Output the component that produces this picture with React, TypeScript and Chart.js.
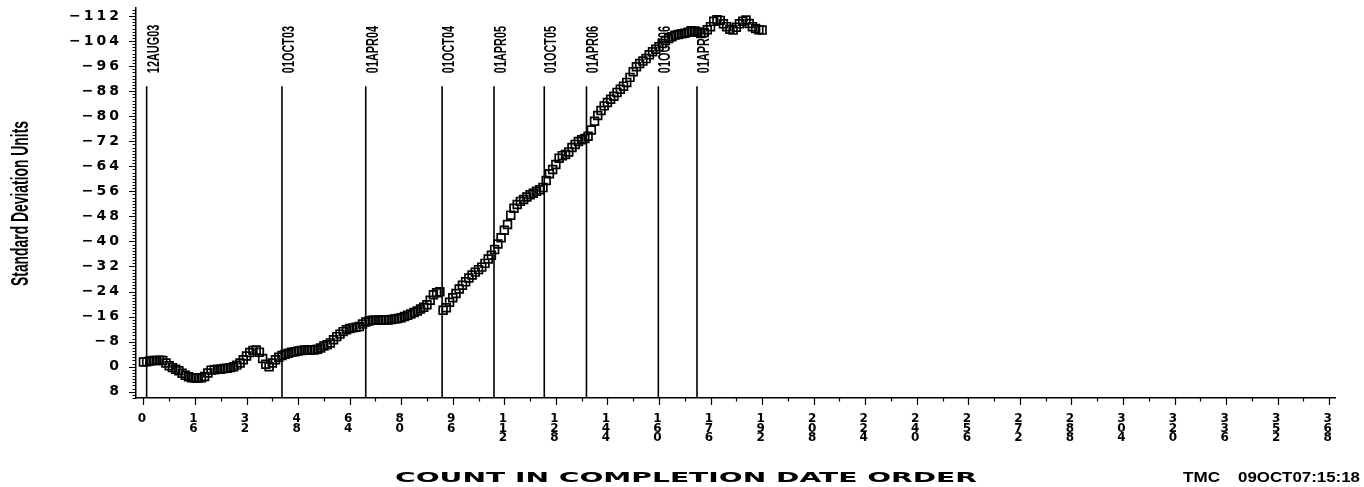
import React, { useEffect, useRef } from 'react';
import { Chart, registerables } from 'chart.js';

Chart.register(...registerables);

// Series: standard deviation units, in completion-date order (x = count)
const deviationValues: number[] = [
  -1.5, -1.6, -1.8, -2.0, -2.0, -2.1, -2.0, -1.2, -0.3, 0.3,
  0.8, 1.3, 2.1, 2.7, 3.2, 3.5, 3.6, 3.6, 3.5, 3.1,
  2.0, 1.1, 1.0, 0.8, 0.8, 0.6, 0.5, 0.3, 0.0, -0.5,
  -1.2, -2.2, -3.4, -4.5, -5.2, -5.3, -4.6, -2.6, -0.8, 0.0,
  -1.2, -2.2, -3.0, -3.6, -4.0, -4.3, -4.6, -4.8, -5.0, -5.2,
  -5.3, -5.3, -5.4, -5.3, -5.6, -6.0, -6.6, -7.0, -7.6, -8.6,
  -9.6, -10.4, -11.2, -11.8, -12.2, -12.4, -12.6, -12.8, -13.6, -14.3,
  -14.6, -14.8, -14.9, -14.8, -14.9, -15.0, -14.9, -15.1, -15.2, -15.4,
  -15.6, -16.0, -16.4, -16.8, -17.3, -17.8, -18.4, -19.0, -19.8, -21.2,
  -23.0, -23.6, -23.9, -18.0, -18.8, -20.6, -22.0, -23.4, -24.8, -26.0,
  -27.1, -28.3, -29.3, -30.2, -31.0, -31.8, -33.0, -34.4, -35.6, -37.4,
  -39.2, -41.2, -43.6, -45.4, -48.4, -50.6, -51.8, -52.8, -53.4, -54.2,
  -54.9, -55.4, -56.0, -56.5, -57.2, -59.5, -61.6, -63.0, -64.6, -66.6,
  -67.4, -67.8, -68.6, -70.0, -71.0, -71.9, -72.5, -72.9, -73.6, -75.6,
  -78.4, -80.2, -81.8, -83.3, -84.4, -85.4, -86.4, -87.6, -88.6, -89.6,
  -90.8, -92.4, -94.2, -95.8, -96.8, -97.6, -98.4, -99.6, -100.6, -101.4,
  -102.2, -103.2, -104.2, -104.8, -105.4, -105.9, -106.1, -106.3, -106.5, -106.8,
  -107.3, -107.2, -106.8, -106.4, -106.7, -107.6, -108.6, -110.3, -110.8, -110.6,
  -109.5, -108.6, -107.8, -107.5, -108.4, -109.5, -110.3, -110.7, -109.6, -108.6,
  -108.0, -107.6, -107.5,
];

// Vertical reference lines (count position) and their date labels
const refLinePositions: number[] = [1, 43, 69, 92.7, 108.8, 124.4, 137.5, 159.8, 171.8];
const refLineLabels: string[] = [
  '12AUG03', '01OCT03', '01APR04', '01OCT04', '01APR05',
  '01OCT05', '01APR06', '01OCT06', '01APR07',
];
const refLineTop = -89.6;
const refLineBottom = 10;

// Axis ticks
const yTickValues: number[] = [-112, -104, -96, -88, -80, -72, -64, -56, -48, -40, -32, -24, -16, -8, 0, 8];
const xTickValues: number[] = [
  0, 16, 32, 48, 64, 80, 96, 112, 128, 144, 160, 176, 192, 208, 224, 240,
  256, 272, 288, 304, 320, 336, 352, 368,
];

const xAxisTitle = 'COUNT IN COMPLETION DATE ORDER';
const yAxisTitle = 'Standard Deviation Units';
const footLeft = 'TMC';
const footRight = '09OCT07:15:18';

function drawFitted(
  ctx: CanvasRenderingContext2D,
  text: string,
  x: number,
  y: number,
  targetWidth: number,
  font: string,
  rotate: boolean
) {
  ctx.save();
  ctx.font = font;
  (ctx as any).letterSpacing = '0px';
  const w = ctx.measureText(text).width || 1;
  ctx.translate(x, y);
  if (rotate) ctx.rotate(-Math.PI / 2);
  ctx.scale(targetWidth / w, 1);
  ctx.textAlign = 'left';
  ctx.textBaseline = 'alphabetic';
  ctx.fillStyle = '#000';
  ctx.fillText(text, 0, 0);
  ctx.restore();
}

const decorPlugin = {
  id: 'decor',
  beforeDraw(chart: any) {
    (chart.ctx as any).letterSpacing = '3px';
  },
  beforeDatasetsDraw(chart: any) {
    const ctx: CanvasRenderingContext2D = chart.ctx;
    const xs = chart.scales.x;
    const ys = chart.scales.y;
    ctx.save();
    (ctx as any).letterSpacing = '0px';
    ctx.font = 'bold 17px "Liberation Sans"';
    const sx = 0.64;
    const baseY = ys.getPixelForValue(refLineTop) - 13;
    refLinePositions.forEach((pos, k) => {
      const px = xs.getPixelForValue(pos);
      ctx.save();
      ctx.translate(px + 12, baseY);
      ctx.rotate(-Math.PI / 2);
      ctx.scale(sx, 1);
      ctx.fillStyle = '#000';
      ctx.textAlign = 'left';
      ctx.textBaseline = 'alphabetic';
      ctx.fillText(refLineLabels[k], 0, 0);
      ctx.restore();
    });
    ctx.restore();
  },
  afterDraw(chart: any) {
    const ctx: CanvasRenderingContext2D = chart.ctx;
    const xs = chart.scales.x;
    const ys = chart.scales.y;
    const area = chart.chartArea;
    ctx.save();
    (ctx as any).letterSpacing = '0px';
    ctx.strokeStyle = '#000';
    ctx.lineWidth = 1.2;
    ctx.beginPath();
    for (let v = -114; v <= 10; v++) {
      const py = Math.round(ys.getPixelForValue(v)) + 0.5;
      const len = v % 8 === 0 ? 7 : 3.5;
      ctx.moveTo(area.left - len, py);
      ctx.lineTo(area.left, py);
    }
    for (let v = 0; v <= 368; v += 8) {
      const px = Math.round(xs.getPixelForValue(v)) + 0.5;
      const len = v % 16 === 0 ? 7 : 3.5;
      ctx.moveTo(px, area.bottom);
      ctx.lineTo(px, area.bottom + len);
    }
    ctx.stroke();
    ctx.restore();

    const midY = (area.top + area.bottom) / 2;
    drawFitted(ctx, yAxisTitle, 28, midY + 83, 165, 'bold 24px "Liberation Sans"', true);
    drawFitted(ctx, xAxisTitle, 395, 482, 582, 'bold 14px "DejaVu Sans"', false);
    drawFitted(ctx, footLeft, 1183, 482, 37, 'bold 15px "Liberation Sans"', false);
    drawFitted(ctx, footRight, 1238, 482, 122, 'bold 15px "Liberation Sans"', false);
  },
};

export default function App() {
  const canvasRef = useRef<HTMLCanvasElement | null>(null);

  useEffect(() => {
    if (!canvasRef.current) return;
    const points = deviationValues.map((v, i) => ({ x: i, y: v }));
    const datasets: any[] = [
      {
        label: 'Standard Deviation Units',
        data: points,
        showLine: false,
        pointStyle: 'rect',
        pointRadius: 5.5,
        pointBorderWidth: 1.7,
        pointBorderColor: '#000',
        pointBackgroundColor: 'rgba(0,0,0,0)',
        order: 0,
      },
      ...refLinePositions.map((pos, k) => ({
        label: refLineLabels[k],
        data: [
          { x: pos, y: refLineTop },
          { x: pos, y: refLineBottom },
        ],
        showLine: true,
        borderColor: '#000',
        borderWidth: 1.6,
        pointRadius: 0,
        order: 1,
      })),
    ];

    const chart = new Chart(canvasRef.current, {
      type: 'scatter',
      data: { datasets },
      options: {
        animation: false,
        responsive: false,
        events: [],
        layout: { padding: { top: 8, right: 29, left: 0, bottom: 0 } },
        plugins: {
          legend: { display: false },
          tooltip: { enabled: false },
        },
        scales: {
          x: {
            type: 'linear',
            min: -2.3,
            max: 369.8,
            afterBuildTicks: (s: any) => {
              s.ticks = xTickValues.map((v) => ({ value: v }));
            },
            afterFit: (s: any) => {
              s.height = 89;
              s.paddingLeft = 0;
              s.paddingRight = 0;
            },
            grid: { display: false, drawTicks: false },
            border: { display: true, color: '#000', width: 1.5 },
            ticks: {
              autoSkip: false,
              maxRotation: 0,
              minRotation: 0,
              padding: 16,
              color: '#000',
              font: { family: '"DejaVu Sans"', weight: 'bold', size: 12, lineHeight: 0.8 },
              callback: (v: any) => String(v).split(''),
            },
          },
          y: {
            type: 'linear',
            reverse: true,
            min: -114.56,
            max: 10,
            afterBuildTicks: (s: any) => {
              s.ticks = yTickValues.map((v) => ({ value: v }));
            },
            afterFit: (s: any) => {
              s.width = 136;
              s.paddingTop = 0;
              s.paddingBottom = 0;
            },
            grid: { display: false, drawTicks: false },
            border: { display: true, color: '#000', width: 1.5 },
            ticks: {
              autoSkip: false,
              padding: 14,
              color: '#000',
              font: { family: '"DejaVu Sans"', weight: 'bold', size: 14 },
              callback: (v: any) => (v < 0 ? '\u2212' + Math.abs(v) : String(v)),
            },
          },
        },
      },
      plugins: [decorPlugin],
    });

    return () => {
      chart.destroy();
    };
  }, []);

  return (
    <div style={{ position: 'absolute', left: 0, top: 0, width: 1364, height: 487, background: '#fff' }}>
      <canvas ref={canvasRef} width={1364} height={487} style={{ display: 'block' }} />
    </div>
  );
}
